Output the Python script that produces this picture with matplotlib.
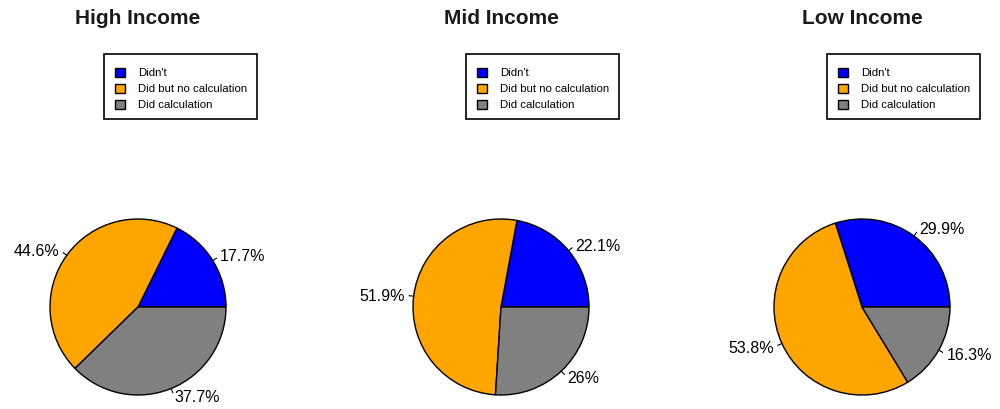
import matplotlib.pyplot as plt
from matplotlib.patches import Rectangle
import numpy as np

plt.rcParams['font.family'] = ['Liberation Sans', 'DejaVu Sans']

# survey answers by income group (percent)
categories = ["Didn't", "Did but no calculation", "Did calculation"]
groups = ["High Income", "Mid Income", "Low Income"]
high = [17.7, 44.6, 37.7]
mid = [22.1, 51.9, 26]
low = [29.9, 53.8, 16.3]
colors = ["blue", "orange", "gray"]

W, H = 1000, 410
fig = plt.figure(figsize=(W / 100, H / 100), dpi=100)

# pixel-space overlay for titles and legends
over = fig.add_axes([0, 0, 1, 1])
over.set_xlim(0, W)
over.set_ylim(H, 0)
over.axis("off")

centers = [138, 501, 862]
legend_x = [104, 466, 827]
cy, R = 308, 88
top_px, half_w = 190, 160

for vals, name, cx, lx in zip([high, mid, low], groups, centers, legend_x):
    ax = fig.add_axes([(cx - half_w) / W, 0, 2 * half_w / W, (H - top_px) / H])
    wedges, _ = ax.pie(vals, colors=colors, startangle=0, counterclock=True,
                       wedgeprops=dict(edgecolor="black", linewidth=1))
    ax.set_aspect("auto")
    ax.set_xlim(-half_w / R, half_w / R)
    ax.set_ylim(-(H - cy) / R, (cy - top_px) / R)

    # labels with short tick marks, R style
    cum = np.cumsum([0] + vals)
    for v, a0, a1 in zip(vals, cum[:-1], cum[1:]):
        ang = np.deg2rad((a0 + a1) / 2 / 100 * 360)
        c, s = np.cos(ang), np.sin(ang)
        ax.plot([c, 1.05 * c], [s, 1.05 * s], color="black", lw=0.8)
        ax.text(1.1 * c, 1.1 * s, f"{v:g}%", fontsize=11.5,
                ha="left" if c > 0 else "right", va="center")

    over.text(cx, 18, name, fontsize=15, fontweight="bold",
              ha="center", va="center", color="#1a1a1a")

    # legend box
    over.add_patch(Rectangle((lx, 55), 153, 65, fill=False,
                             edgecolor="black", linewidth=1.2))
    for i, (lab, col) in enumerate(zip(categories, colors)):
        y = 73 + 16 * i
        over.add_patch(Rectangle((lx + 11, y - 4.5), 10, 9, facecolor=col,
                                 edgecolor="black", linewidth=1))
        over.text(lx + 34, y, lab, fontsize=8.2, ha="left", va="center")

fig.savefig("out.png", dpi=100)
